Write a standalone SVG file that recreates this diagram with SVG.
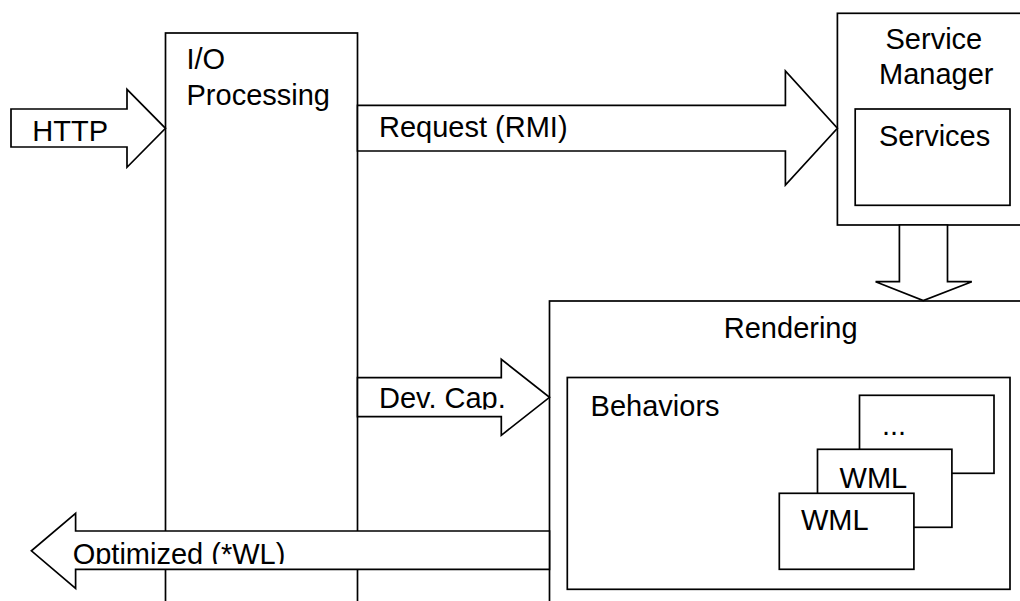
<svg xmlns="http://www.w3.org/2000/svg" width="1020" height="601" viewBox="0 0 1020 601">
<style>
.box{fill:#fff;stroke:#000;stroke-width:1.7}
.arrow{fill:#fff;stroke:#000;stroke-width:1.7;stroke-linejoin:miter}
text{font-family:"Liberation Sans",Arial,sans-serif;font-size:29px;fill:#000}
</style>
<defs>
<clipPath id="clipDev"><rect x="358" y="378" width="170" height="31.5"/></clipPath>
<clipPath id="clipOpt"><rect x="60" y="531" width="488" height="33"/></clipPath>
</defs>
<rect width="1020" height="601" fill="#fff"/>
<g id="io-processing">
<rect class="box" x="165.5" y="33" width="192" height="600"/>
<text x="186.5" y="69">I/O</text>
<text x="186.5" y="105">Processing</text>
</g>
<g id="service-manager">
<rect class="box" x="837.4" y="13.3" width="220" height="211.7"/>
<text x="885.5" y="49">Service</text>
<text x="879" y="84">Manager</text>
</g>
<g id="services">
<rect class="box" x="855.2" y="109" width="154.8" height="96.3"/>
<text x="879" y="146">Services</text>
</g>
<g id="rendering">
<rect class="box" x="549.5" y="301" width="500" height="400"/>
<text x="723.8" y="338.3">Rendering</text>
</g>
<g id="behaviors">
<rect class="box" x="567.3" y="377.5" width="442.7" height="211.8"/>
<text x="590.6" y="416">Behaviors</text>
</g>
<g id="behavior-more">
<rect class="box" x="859.5" y="395.3" width="134.5" height="78"/>
<text x="882" y="435">...</text>
</g>
<g id="wml-back">
<rect class="box" x="817.5" y="449.3" width="134.4" height="78"/>
<text x="839.6" y="488.3">WML</text>
</g>
<g id="wml-front">
<rect class="box" x="779.3" y="493.3" width="134.6" height="76"/>
<text x="801" y="530">WML</text>
</g>
<g id="connectors">
<g id="http">
<polygon class="arrow" points="11,109 127,109 127,89.3 165.5,128.3 127,167.3 127,147 11,147"/>
<text x="32.3" y="140.7">HTTP</text>
</g>
<g id="request">
<polygon class="arrow" points="357.5,105.3 785.4,105.3 785.4,71 837.4,128.3 785.4,185 785.4,151 357.5,151"/>
<text x="379" y="136.7">Request (RMI)</text>
</g>
<g id="dev-cap">
<polygon class="arrow" points="357.5,377.7 501.3,377.7 501.3,359.3 549.5,397.3 501.3,435.3 501.3,416.7 357.5,416.7"/>
<text x="379" y="408.3" clip-path="url(#clipDev)">Dev. Cap.</text>
</g>
<g id="services-to-rendering">
<polygon class="arrow" points="899.4,225 899.4,281.7 875.6,281.7 923.3,300.5 971.8,281.7 947.5,281.7 947.5,225"/>
</g>
<g id="optimized">
<polygon class="arrow" points="549.5,531 75.6,531 75.6,513.3 31.4,550.8 75.6,588.5 75.6,569.3 549.5,569.3"/>
<text x="72.7" y="563.5" clip-path="url(#clipOpt)">Optimized (*WL)</text>
</g>
</g>
</svg>
